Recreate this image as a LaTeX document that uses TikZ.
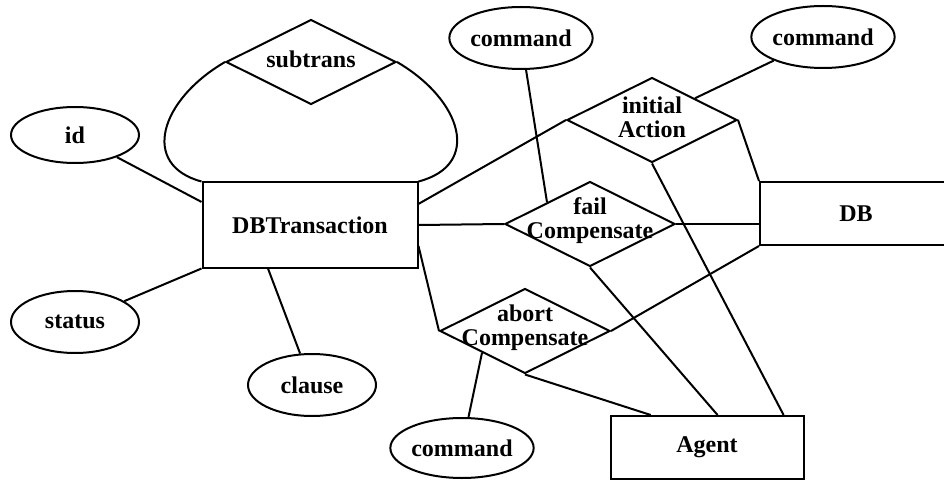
\documentclass[tikz,border=0pt]{standalone}
\usepackage{fontspec}
\setmainfont{Liberation Serif}
\usepackage{tikz}
\usetikzlibrary{shapes.geometric}

\begin{document}
\begin{tikzpicture}[x=1pt, y=-1pt, line width=2pt, font=\fontsize{24}{24}\selectfont\bfseries,
    entity/.style = {draw, rectangle, minimum height=85pt, inner sep=0pt},
    attr/.style = {draw, ellipse, minimum width=128pt, minimum height=62pt, inner sep=0pt},
    rel/.style = {draw, diamond, minimum width=170pt, minimum height=85pt, inner sep=0pt,
        label={[align=center, yshift=3pt]center:{#1}}}]
    \useasboundingbox (0,0) rectangle (944,481);
    \node[entity, minimum width=215pt] (dbt) at (310,225) {DBTransaction};
    \node[entity, minimum width=192pt, minimum height=63pt] (db) at (856,213.5) {DB};
    \node[entity, minimum width=193pt, minimum height=63pt] (agent) at (707,447.5) {Agent};
    \node[rel=subtrans] (sub) at (311,62) {};
    \node[rel={initial\\Action}] (init) at (652,120) {};
    \node[rel={fail\\Compensate}] (fail) at (590,224) {};
    \node[rel={abort\\Compensate}] (abort) at (525,331) {};
    \node[attr, minimum height=56pt] (id) at (75,135) {id};
    \node[attr] (status) at (75,322) {status};
    \node[attr] (clause) at (312,385) {clause};
    \node[attr] (cmdA) at (521,38) {command};
    \node[attr] (cmdB) at (823,37) {command};
    \node[attr, minimum height=60pt] (cmdC) at (462,448) {command};
    % subtrans loop
    \draw (sub.west) .. controls (160,100) and (140,165) .. (dbt.north west);
    \draw (sub.east) .. controls (462,100) and (482,165) .. (dbt.north east);
    \draw (id) -- (dbt.168);
    \draw (status) -- (dbt.south west);
    \draw (clause) -- (dbt.226);
    \draw (dbt.11) -- (init.west);
    \draw (dbt.east) -- (fail.west);
    \draw (dbt.349) -- (abort.west);
    \draw (cmdA) -- (fail.north west);
    \draw (cmdB) -- (init.north east);
    \draw (cmdC) -- (abort.south west);
    \draw (init.east) -- (db.north west);
    \draw (fail.east) -- (fail.east -| db.west);
    \draw (abort.east) -- (db.south west);
    \draw (abort.south) -- (agent.150);
    \draw (fail.south) -- (agent.72);
    \draw (init.south) -- (agent.23);
\end{tikzpicture}
\end{document}
